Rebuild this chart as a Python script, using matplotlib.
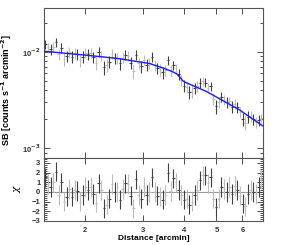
import matplotlib

matplotlib.use("Agg")
import matplotlib.pyplot as plt
import numpy as np
from matplotlib.ticker import FixedLocator, LogLocator, MultipleLocator, NullFormatter

plt.rcParams["font.family"] = ["Liberation Sans", "DejaVu Sans"]
plt.rcParams["font.weight"] = "bold"
plt.rcParams["mathtext.default"] = "bf"

# radial bins [arcmin]
distance = [
    1.514, 1.542, 1.571, 1.601, 1.631, 1.662, 1.693, 1.725, 1.757, 1.790,
    1.824, 1.858, 1.893, 1.929, 1.965, 2.002, 2.040, 2.078, 2.117, 2.157,
    2.197, 2.239, 2.281, 2.324, 2.367, 2.412, 2.457, 2.503, 2.550, 2.598,
    2.647, 2.697, 2.748, 2.799, 2.852, 2.905, 2.960, 3.016, 3.072, 3.130,
    3.189, 3.249, 3.310, 3.372, 3.436, 3.500, 3.566, 3.633, 3.701, 3.771,
    3.842, 3.914, 3.988, 4.063, 4.139, 4.217, 4.296, 4.377, 4.459, 4.543,
    4.628, 4.715, 4.804, 4.894, 4.986, 5.080, 5.175, 5.272, 5.371, 5.472,
    5.575, 5.680, 5.786, 5.895, 6.006, 6.119, 6.234, 6.351, 6.470, 6.592,
    6.716, 6.842,
]

# surface brightness [1e-3 counts s^-1 arcmin^-2]
sb = [
    12.17, 11.17, 10.71, 11.29, 12.64, 9.49, 11.09, 8.48, 9.06, 10.01,
    8.95, 9.77, 9.58, 8.18, 8.98, 9.89, 9.47, 9.77, 8.87, 7.76,
    10.04, 9.16, 6.92, 7.33, 7.96, 9.60, 8.65, 8.59, 7.62, 8.75,
    9.32, 9.12, 7.75, 6.30, 9.36, 7.62, 7.14, 8.28, 7.40, 7.62,
    8.94, 7.32, 6.79, 6.55, 6.15, 6.45, 8.24, 6.45, 7.33, 6.80,
    5.86, 5.11, 4.44, 4.35, 3.87, 3.94, 4.24, 4.40, 4.82, 4.96,
    4.82, 4.28, 4.41, 3.25, 2.72, 3.02, 3.42, 3.21, 2.99, 3.07,
    2.71, 2.89, 2.66, 2.37, 2.02, 1.84, 2.13, 2.15, 2.01, 1.87,
    1.96, 2.06,
]
sb_err = [
    1.32, 1.32, 1.31, 1.30, 1.29, 1.28, 1.28, 1.27, 1.26, 1.25,
    1.24, 1.24, 1.23, 1.22, 1.21, 1.21, 1.20, 1.19, 1.18, 1.18,
    1.17, 1.16, 1.15, 1.15, 1.14, 1.13, 1.12, 1.12, 1.11, 1.09,
    1.08, 1.07, 1.06, 1.05, 1.04, 1.03, 1.02, 1.01, 1.00, 0.99,
    0.97, 0.95, 0.93, 0.91, 0.89, 0.87, 0.85, 0.83, 0.81, 0.78,
    0.74, 0.69, 0.64, 0.62, 0.61, 0.59, 0.57, 0.56, 0.54, 0.53,
    0.51, 0.50, 0.48, 0.46, 0.45, 0.43, 0.42, 0.40, 0.39, 0.37,
    0.36, 0.35, 0.34, 0.33, 0.31, 0.30, 0.28, 0.27, 0.26, 0.25,
    0.24, 0.23,
]

# residuals (data - model) / error
chi = [
    1.5, 0.8, 0.5, 1.0, 2.1, -0.3, 1.0, -1.0, -0.5, 0.3,
    -0.5, 0.2, 0.1, -1.0, -0.3, 0.5, 0.2, 0.5, -0.2, -1.1,
    0.9, 0.2, -1.7, -1.3, -0.7, 0.8, 0.0, 0.0, -0.8, 0.3,
    0.9, 0.8, -0.4, -1.7, 1.3, -0.3, -0.7, 0.5, -0.3, 0.0,
    1.5, 0.0, -0.4, -0.5, -0.8, -0.3, 2.0, 0.1, 1.4, 1.0,
    0.2, -0.3, -0.8, -0.7, -1.3, -1.0, -0.3, 0.2, 1.2, 1.7,
    1.7, 0.9, 1.5, -0.7, -1.6, -0.7, 0.5, 0.3, 0.0, 0.5,
    -0.2, 0.6, 0.2, -0.4, -1.2, -1.5, -0.2, 0.2, 0.0, -0.2,
    0.5, 1.3,
]

# best-fit broken model
model_r = [1.50, 2.00, 2.50, 3.14, 3.50, 3.70, 3.80, 3.87, 3.96, 4.05, 4.66, 5.88, 6.92]
model_sb = [10.2, 9.3, 8.6, 7.6, 6.7, 6.2, 5.9, 5.5, 5.0, 4.8, 3.9, 2.5, 1.7]

r = np.array(distance)
y = np.array(sb) * 1e-3
ey = np.array(sb_err) * 1e-3
res = np.array(chi)
ex = r * 0.009
shades = ["#404040", "#bdbdbd"]

fig = plt.figure(figsize=(2.93, 2.45), dpi=100)
ax = fig.add_axes([0.150, 0.355, 0.748, 0.612])
axr = fig.add_axes([0.150, 0.098, 0.748, 0.257], sharex=ax)

for k in range(2):
    sl = slice(k, None, 2)
    ax.errorbar(r[sl], y[sl], yerr=ey[sl], xerr=ex[sl], fmt="none",
                ecolor=shades[k], elinewidth=0.8, capsize=0)
    axr.errorbar(r[sl], res[sl], yerr=1.0, xerr=ex[sl], fmt="none",
                 ecolor=shades[k], elinewidth=0.8, capsize=0)

ax.plot(model_r, np.array(model_sb) * 1e-3, color="#1c1cf0", lw=1.0, zorder=5)
axr.axhline(0, color="#9a9a9a", lw=0.8, zorder=0)

ax.set_xscale("log")
ax.set_yscale("log")
ax.set_xlim(1.5, 6.93)
ax.set_ylim(7.9e-4, 0.0287)
axr.set_ylim(-3.0, 3.5)

ax.yaxis.set_major_locator(FixedLocator([1e-3, 1e-2]))
ax.yaxis.set_minor_locator(LogLocator(base=10, subs=np.arange(2, 10)))
ax.yaxis.set_minor_formatter(NullFormatter())
ax.set_yticklabels(["10$^{-3}$", "10$^{-2}$"])

axr.xaxis.set_major_locator(FixedLocator([2, 3, 4, 5, 6]))
axr.xaxis.set_minor_locator(FixedLocator([]))
axr.set_xticklabels(["2", "3", "4", "5", "6"])
axr.yaxis.set_major_locator(MultipleLocator(1))
axr.yaxis.set_minor_locator(MultipleLocator(0.2))
plt.setp(ax.get_xticklabels(), visible=False)

for a in (ax, axr):
    a.tick_params(which="both", direction="in", top=True, right=True,
                  labelsize=5.5, width=0.6, colors="#333333", pad=2.5)
    a.tick_params(which="major", length=4)
    a.tick_params(which="minor", length=2)
    for sp in a.spines.values():
        sp.set_linewidth(0.8)
        sp.set_color("#555555")
axr.tick_params(axis="x", pad=4)

ax.set_ylabel("SB [counts s$^{-1}$ arcmin$^{-2}$]", fontsize=6.5, fontweight="bold")
ax.yaxis.set_label_coords(-0.135, 0.45)
axr.set_ylabel("χ", fontsize=7.5, rotation=90, fontweight="normal",
               fontstyle="italic", family=["DejaVu Serif"])
axr.yaxis.set_label_coords(-0.10, 0.49)
axr.set_xlabel("Distance [arcmin]", fontsize=6, fontweight="bold", labelpad=1)

fig.savefig("out.png", dpi=100)
plt.close(fig)
